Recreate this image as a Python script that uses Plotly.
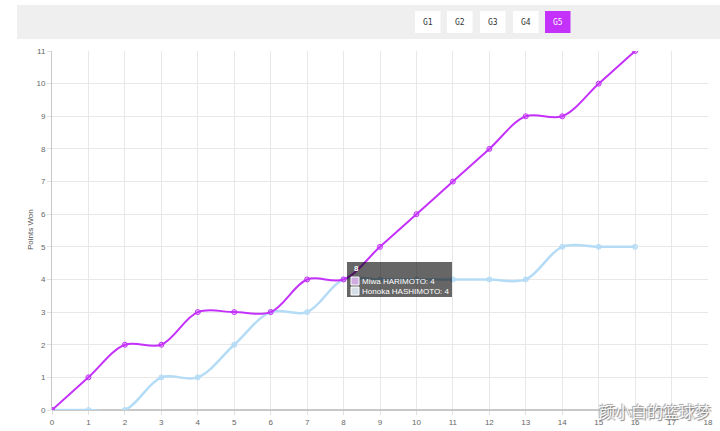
import plotly.graph_objects as go

points = list(range(17))
miwa = [0, 1, 2, 2, 3, 3, 3, 4, 4, 5, 6, 7, 8, 9, 9, 10, 11]
honoka = [0, 0, 0, 1, 1, 2, 3, 3, 4, 4, 4, 4, 4, 4, 5, 5, 5]
games = ["G1", "G2", "G3", "G4", "G5"]
active_game = "G5"
name_miwa = "Miwa HARIMOTO"
name_honoka = "Honoka HASHIMOTO"
tip_x = 8

PURPLE = "#c431fa"
BLUE = "#b5dcf6"

fig = go.Figure()
fig.add_trace(go.Scatter(
    x=points, y=honoka, name=name_honoka, mode="lines+markers",
    line=dict(color=BLUE, width=2.5, shape="spline", smoothing=1),
    marker=dict(size=5, color="rgba(181,220,246,0.6)", line=dict(color=BLUE, width=1)),
))
fig.add_trace(go.Scatter(
    x=points, y=miwa, name=name_miwa, mode="lines+markers",
    line=dict(color=PURPLE, width=2, shape="spline", smoothing=1),
    marker=dict(size=5, color="rgba(196,49,250,0.3)", line=dict(color=PURPLE, width=1)),
))

W, H = 720, 431
L, R, T, B = 52, 12, 51, 21
pw, ph = W - L - R, H - T - B

def px(x):
    return (x - L) / pw

def py(y):
    return (H - B - y) / ph

shapes = []
annotations = []
# top grey band
shapes.append(dict(type="rect", xref="paper", yref="paper", x0=px(17), x1=px(720),
                   y0=py(39), y1=py(5), fillcolor="#efefef", line=dict(width=0), layer="below"))
# buttons
bx = [415, 447, 480, 513, 545]
for g, x0 in zip(games, bx):
    active = g == active_game
    shapes.append(dict(type="rect", xref="paper", yref="paper", x0=px(x0), x1=px(x0 + 25.5),
                       y0=py(33), y1=py(11),
                       fillcolor=PURPLE if active else "white", line=dict(width=0)))
    annotations.append(dict(x=px(x0 + 12.75), y=py(22), xref="paper", yref="paper",
                            xanchor="center", yanchor="middle",
                            text=g, showarrow=False,
                            font=dict(size=8, color="white" if active else "#333", family="DejaVu Sans Mono")))

# tooltip
shapes.append(dict(type="rect", xref="paper", yref="paper", x0=px(347), x1=px(452),
                   y0=py(297), y1=py(262), fillcolor="rgba(0,0,0,0.6)", line=dict(width=0)))
for (yc, col) in [(281, "rgba(220,180,240,0.9)"), (291, "rgba(225,235,245,0.9)")]:
    shapes.append(dict(type="rect", xref="paper", yref="paper", x0=px(351), x1=px(359),
                       y0=py(yc + 4), y1=py(yc - 4), fillcolor=col,
                       line=dict(color="white", width=1)))
tip_lines = [(352, 268.5, "<b>%d</b>" % tip_x),
             (360, 281, "%s: %d" % (name_miwa, miwa[tip_x])),
             (360, 291, "%s: %d" % (name_honoka, honoka[tip_x]))]
for xl, yc, txt in tip_lines:
    annotations.append(dict(x=px(xl), y=py(yc), xref="paper", yref="paper",
                            xanchor="left", yanchor="middle",
                            text=txt, showarrow=False,
                            font=dict(size=8, color="white", family="Arial")))
# y-axis title
annotations.append(dict(x=px(30), y=py(230), xref="paper", yref="paper",
                        xanchor="center", yanchor="middle", textangle=-90,
                        text="Points Won", showarrow=False,
                        font=dict(size=8, color="#555", family="Arial")))
# watermark
annotations.append(dict(x=px(713), y=py(411), xref="paper", yref="paper",
                        xanchor="right", yanchor="middle",
                        text="颜小白的篮球梦", showarrow=False,
                        font=dict(size=16, color="rgba(255,255,255,0.9)", family="Noto Sans CJK SC",
                                  shadow="1px 1px 1px #777, -1px -1px 1px #999")))

fig.update_layout(
    width=W, height=H,
    margin=dict(l=L, r=R, t=T, b=B, autoexpand=False),
    paper_bgcolor="white", plot_bgcolor="white",
    showlegend=False,
    shapes=shapes, annotations=annotations,
    font=dict(family="Arial", size=8, color="#666"),
    xaxis=dict(range=[0, 18], dtick=1, showgrid=True, gridcolor="#e8e8e8", gridwidth=1,
               zeroline=False, showline=False, ticks="outside", ticklen=4, tickcolor="#e0e0e0",
               tickfont=dict(size=8, color="#666"), automargin=False),
    yaxis=dict(range=[0, 11], dtick=1, showgrid=True, gridcolor="#e8e8e8",
               zeroline=True, zerolinecolor="#c8c8c8", zerolinewidth=1.5,
               showline=True, linecolor="#c8c8c8", linewidth=1,
               ticks="outside", ticklen=4, tickcolor="#e0e0e0",
               tickfont=dict(size=8, color="#666"), automargin=False),
)
fig.write_html("out.html", config={"displayModeBar": False},
               post_script="document.body.style.margin='0px';document.body.style.overflow='hidden';")
